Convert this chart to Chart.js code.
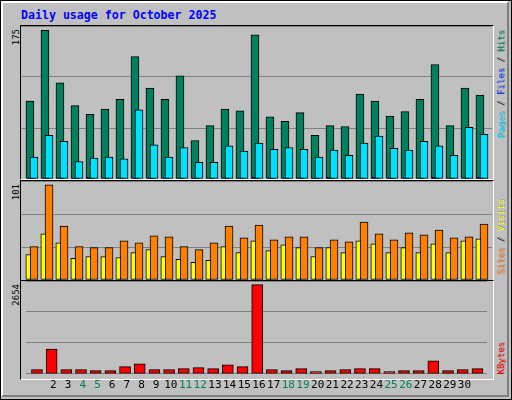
<!DOCTYPE html>
<html><head><meta charset="utf-8">
<script src="https://cdn.jsdelivr.net/npm/chart.js@4/dist/chart.umd.min.js"></script>
<style>
html,body{margin:0;padding:0;background:#c0c0c0;}
#wrap{position:absolute;left:0;top:0;width:510px;height:398px;border:1px solid #000;background:#c0c0c0;overflow:hidden;}
#inner{position:absolute;left:0;top:0;width:504px;height:392px;border-top:2px solid #fff;border-left:2px solid #fff;border-right:2px solid #808080;border-bottom:2px solid #808080;}
.box{position:absolute;border-top:1px solid #000;border-left:1px solid #000;border-right:1px solid #fff;border-bottom:1px solid #fff;box-sizing:border-box;}
.cv{position:absolute;}
.title{position:absolute;left:20px;top:7px;font:bold 11.6px "DejaVu Sans Mono",monospace;color:#0000ff;white-space:nowrap;}
.vt{position:absolute;writing-mode:vertical-rl;transform:rotate(180deg);font:9px "DejaVu Sans Mono",monospace;white-space:nowrap;line-height:10px;}
.rt{text-shadow:1px 1px 0 #909090;}
</style></head><body>
<div id="wrap"><div id="inner"></div>
<div class="title">Daily usage for October 2025</div>
<div class="box" style="left:19px;top:24px;width:474px;height:155px"></div>
<div class="box" style="left:19px;top:179px;width:474px;height:101px"></div>
<div class="box" style="left:19px;top:279px;width:474px;height:100px"></div>
<div class="cv" style="left:20px;top:25px;width:471px;height:153px"><canvas id="c1"></canvas></div>
<div class="cv" style="left:20px;top:180px;width:471px;height:99px"><canvas id="c2"></canvas></div>
<div class="cv" style="left:20px;top:280px;width:471px;height:116px"><canvas id="c3"></canvas></div>
<div class="vt" id="l1" style="left:10px;top:28px"></div>
<div class="vt" id="l2" style="left:10px;top:183px"></div>
<div class="vt" id="l3" style="left:10px;top:283px"></div>
<div class="vt rt" style="left:495px;top:29px"><span style="color:#00e0ff">Pages</span><span style="color:#000"> / </span><span style="color:#0040ff">Files</span><span style="color:#000"> / </span><span style="color:#00805c">Hits</span></div>
<div class="vt rt" style="left:495px;top:198px"><span style="color:#ff8000">Sites</span><span style="color:#000"> / </span><span style="color:#ffff00">Visits</span></div>
<div class="vt rt" style="left:495px;top:341px"><span style="color:#ff0000">KBytes</span></div>
</div>
<script>
const days = Array.from({length:31},(_,i)=>String(i+1));
const weekendDays = [4,5,11,12,18,19,25,26];
const maxLabels = ["175","101","2654"];
const hits = [89,170,110,84,74,80,91,140,104,91,118,44,61,80,78,165,71,66,76,50,61,60,97,89,72,77,91,131,61,104,96];
const files = [25,50,43,20,24,25,23,79,39,25,36,19,19,38,32,41,34,36,34,25,33,27,41,49,35,33,43,38,27,59,51];
const pages = [1,1,1,1,2,1,1,1,1,1,1,1,1,1,1,2,1,1,1,1,2,1,1,2,1,1,1,2,1,1,2];
const sites = [26,47,38,22,24,24,23,28,31,24,21,18,20,34,28,40,30,36,33,24,33,28,40,37,28,33,28,37,28,40,42];
const visits = [34,97,55,34,33,33,40,38,45,44,34,31,38,55,43,56,41,44,44,33,41,39,59,47,41,48,46,51,43,44,57];
const kbytes = [121,705,121,121,93,93,204,288,121,121,148,176,148,260,204,2552,121,93,148,65,93,121,148,148,65,93,93,371,93,121,148];

const X = {type:'linear',min:0.133,max:31.533,offset:false,display:false};
function ds(arr,off,color,w,order){
  return {data:arr.map((v,i)=>({x:i+1+off,y:v})),backgroundColor:color,borderColor:'#000',borderWidth:1,barThickness:w,grouped:false,order:order,borderSkipped:false};
}
function yAxis(max){return {min:0,max:max,display:true,ticks:{display:false,stepSize:max/3},border:{display:false},grid:{color:'#808080',lineWidth:1,drawTicks:false}};}
const base = {responsive:true,maintainAspectRatio:false,animation:false,layout:{padding:0},plugins:{legend:{display:false},tooltip:{enabled:false}}};
document.getElementById('l1').textContent=maxLabels[0];
document.getElementById('l2').textContent=maxLabels[1];
document.getElementById('l3').textContent=maxLabels[2];
new Chart(document.getElementById('c1'),{type:'bar',data:{datasets:[ds(hits,-0.27,'#00805c',8,3),ds(files,0,'#00e0ff',8,2),ds(pages,-0.35,'#0040ff',3,1)]},
 options:{...base,scales:{x:X,y:yAxis(+maxLabels[0])}}});
new Chart(document.getElementById('c2'),{type:'bar',data:{datasets:[ds(sites,-0.38,'#ffff00',5,1),ds(visits,0,'#ff8000',8,2)]},
 options:{...base,scales:{x:X,y:yAxis(+maxLabels[1])}}});
new Chart(document.getElementById('c3'),{type:'bar',data:{datasets:[ds(kbytes,-0.12,'#ff0000',11,1)]},
 options:{...base,scales:{x:{...X,display:true,border:{display:false},grid:{display:false,drawTicks:false},
   ticks:{stepSize:1,autoSkip:false,maxRotation:0,padding:5,font:{family:'DejaVu Sans Mono',size:11},
     callback:(v)=>Number.isInteger(v)&&v>=1&&v<=31?days[v-1]:'',
     color:(c)=>weekendDays.includes(c.tick.value)?'#00805c':'#000'}},y:yAxis(+maxLabels[2])}}});
</script></body></html>
